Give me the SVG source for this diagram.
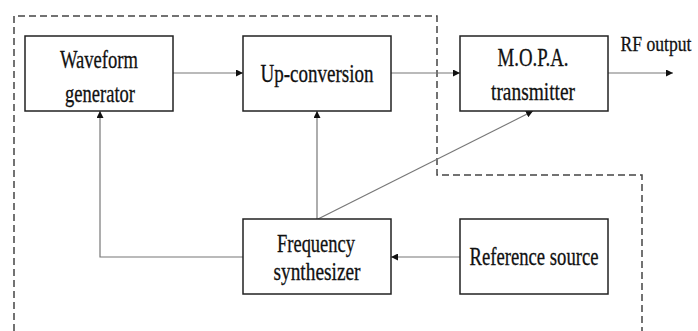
<svg xmlns="http://www.w3.org/2000/svg" width="698" height="331" viewBox="0 0 698 331">
<defs>
<marker id="ah" viewBox="0 0 10 10" refX="10" refY="5" markerWidth="7" markerHeight="7" markerUnits="userSpaceOnUse" orient="auto">
<path d="M0,0 L10,5 L0,10 z" fill="#111"/>
</marker>
</defs>
<style>
.box{fill:#fff;stroke:#222;stroke-width:1.5}
.t{font-family:"Liberation Serif","Times New Roman",serif;font-size:25px;fill:#111;stroke:#111;stroke-width:0.3;text-anchor:middle}
.s{font-size:22px}
.c{fill:none;stroke:#777;stroke-width:1.2;marker-end:url(#ah)}
.d{fill:none;stroke:#444;stroke-width:1.5;stroke-dasharray:7 4}
</style>
<rect width="698" height="331" fill="#fff"/>
<path class="d" d="M14,331 L14,16 L437,16 L437,175 L642,175 L642,331"/>
<g id="connectors">
<line class="c" x1="173" y1="73" x2="243" y2="73"/>
<line class="c" x1="391" y1="73" x2="460" y2="73"/>
<line class="c" x1="608" y1="73" x2="673" y2="73"/>
<polyline class="c" points="243,257 100,257 100,111"/>
<line class="c" x1="317" y1="219" x2="317" y2="111"/>
<line class="c" x1="318" y1="219" x2="533" y2="111"/>
<line class="c" x1="460" y1="257" x2="391" y2="257"/>
</g>
<g id="waveform">
<rect class="box" x="25" y="36" width="148" height="75"/>
<text class="t" x="99" y="68" textLength="78" lengthAdjust="spacingAndGlyphs">Waveform</text>
<text class="t" x="100" y="102" textLength="70" lengthAdjust="spacingAndGlyphs">generator</text>
</g>
<g id="upconv">
<rect class="box" x="243" y="36" width="148" height="75"/>
<text class="t" x="317" y="82" textLength="113" lengthAdjust="spacingAndGlyphs">Up-conversion</text>
</g>
<g id="mopa">
<rect class="box" x="460" y="36" width="148" height="75"/>
<text class="t" x="533" y="66" textLength="71" lengthAdjust="spacingAndGlyphs">M.O.P.A.</text>
<text class="t" x="533" y="100" textLength="84" lengthAdjust="spacingAndGlyphs">transmitter</text>
</g>
<g id="rfout">
<text class="t s" transform="translate(656,51) scale(0.8,1)" x="0" y="0">RF output</text>
</g>
<g id="synth">
<rect class="box" x="243" y="219" width="148" height="75"/>
<text class="t" x="316" y="252" textLength="78" lengthAdjust="spacingAndGlyphs">Frequency</text>
<text class="t" x="317" y="280" textLength="87" lengthAdjust="spacingAndGlyphs">synthesizer</text>
</g>
<g id="refsrc">
<rect class="box" x="460" y="219" width="148" height="75"/>
<text class="t" x="534" y="265" textLength="129" lengthAdjust="spacingAndGlyphs">Reference source</text>
</g>
</svg>
